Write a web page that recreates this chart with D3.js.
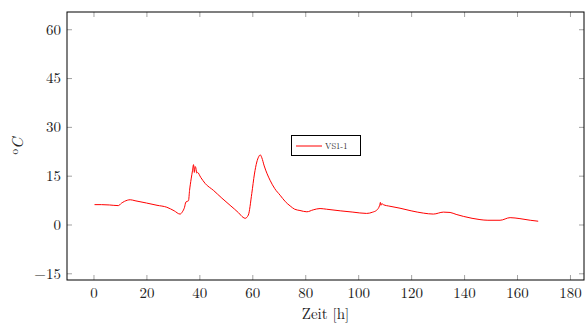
<!DOCTYPE html>
<html><head><meta charset="utf-8">
<script src="https://cdn.jsdelivr.net/npm/d3@7"></script>
<style>body{margin:0;background:#fff}svg{display:block}</style>
</head><body><svg id="c" width="585" height="324"></svg>
<script>
const hours = [0.4, 3, 6, 9.4, 10.5, 11.7, 13.9, 15.7, 20, 24, 27.7, 30.5, 32.7, 33.6, 34.4, 34.9, 35.9, 36.3, 36.9, 37.4, 37.8, 38.1, 38.4, 38.7, 39.0, 39.3, 40.5, 42.2, 45.3, 48.5, 51.6, 54.8, 56.5, 57.3, 58.5, 59.8, 60.8, 61.7, 62.4, 63, 63.6, 64.5, 66.7, 68.5, 70.5, 72.5, 74.3, 76, 78, 80.6, 83, 85.6, 88, 93.2, 98, 103.2, 105.5, 107, 108.1, 108.4, 108.6, 108.9, 109.5, 112, 115.8, 120, 124.6, 128.4, 132.2, 134.7, 137, 139.7, 143, 146, 149, 153.6, 157.4, 161.1, 165, 168];
const temps = [6.1, 6.1, 6.0, 5.8, 6.5, 7.1, 7.6, 7.3, 6.6, 5.9, 5.3, 4.2, 3.2, 3.9, 5.3, 6.9, 7.3, 10.5, 14.0, 16.5, 18.4, 16.0, 17.8, 17.3, 15.8, 16.0, 14.5, 12.6, 10.5, 8.1, 5.9, 3.6, 2.2, 1.9, 2.9, 9.5, 15.5, 19.2, 20.8, 21.4, 20.5, 18.0, 13.6, 11.0, 9.0, 7.0, 5.7, 4.7, 4.3, 3.9, 4.5, 4.9, 4.7, 4.2, 3.8, 3.4, 3.8, 4.4, 5.9, 6.8, 5.9, 6.4, 6.1, 5.6, 5.0, 4.2, 3.5, 3.2, 3.8, 3.7, 3.1, 2.5, 1.9, 1.5, 1.3, 1.3, 2.1, 1.8, 1.3, 1.0];
const xTicks = [0, 20, 40, 60, 80, 100, 120, 140, 160, 180];
const yTicks = [-15, 0, 15, 30, 45, 60];
const seriesName = "VS1-1";

const svg = d3.select("#c");
const L = 67, R = 584, T = 12, B = 280;
const x = d3.scaleLinear().domain([-10, 185.3]).range([L, R]);
const y = d3.scaleLinear().domain([-17.06, 65.3]).range([B, T]);
const font = "'Latin Modern Roman','Liberation Serif','DejaVu Serif',serif";
const fmt = d => d < 0 ? "\u2212" + Math.abs(d) : String(d);

function styleAxis(g, labels) {
  g.select(".domain").remove();
  g.selectAll(".tick line").attr("stroke", "#8a8a8a").attr("stroke-width", 0.8);
  g.selectAll("text").attr("font-family", font).attr("font-size", 15).attr("fill", "#222");
  if (!labels) g.selectAll("text").remove();
}
svg.append("g").attr("transform", `translate(0,${B})`)
  .call(d3.axisBottom(x).tickValues(xTicks).tickSize(-5).tickPadding(7).tickFormat(fmt))
  .call(g => styleAxis(g, true));
svg.append("g").attr("transform", `translate(0,${T})`)
  .call(d3.axisTop(x).tickValues(xTicks).tickSize(-5))
  .call(g => styleAxis(g, false));
svg.append("g").attr("transform", `translate(${L},0)`)
  .call(d3.axisLeft(y).tickValues(yTicks).tickSize(-5).tickPadding(6).tickFormat(fmt))
  .call(g => styleAxis(g, true));
svg.append("g").attr("transform", `translate(${R},0)`)
  .call(d3.axisRight(y).tickValues(yTicks).tickSize(-5))
  .call(g => styleAxis(g, false));

svg.append("rect").attr("x", L).attr("y", T).attr("width", R - L).attr("height", B - T)
  .attr("fill", "none").attr("stroke", "#000").attr("stroke-width", 1);

const data = hours.map((h, i) => [h, temps[i]]);
svg.append("path").datum(data)
  .attr("fill", "none").attr("stroke", "#ff0000").attr("stroke-width", 1)
  .attr("stroke-linejoin", "round")
  .attr("d", d3.line().x(d => x(d[0])).y(d => y(d[1])).curve(d3.curveMonotoneX));

// axis labels
svg.append("text").attr("x", (L + R) / 2).attr("y", 319).attr("text-anchor", "middle")
  .attr("font-family", font).attr("font-size", 15).attr("fill", "#222").text("Zeit [h]");
const yl = svg.append("text").attr("transform", `translate(23,${(T + B) / 2}) rotate(-90)`)
  .attr("text-anchor", "middle").attr("font-family", font).attr("font-size", 16).attr("fill", "#222");
yl.append("tspan").attr("font-size", 11).attr("dy", -5).text("o");
yl.append("tspan").attr("font-style", "italic").attr("dy", 5).text("C");

// legend
const lg = svg.append("g");
lg.append("rect").attr("x", 291.5).attr("y", 135.5).attr("width", 69).attr("height", 20)
  .attr("fill", "#fff").attr("stroke", "#000").attr("stroke-width", 1);
lg.append("line").attr("x1", 296).attr("x2", 322).attr("y1", 146).attr("y2", 146)
  .attr("stroke", "#ff0000").attr("stroke-width", 1);
lg.append("text").attr("x", 325).attr("y", 149).attr("font-family", font).attr("font-size", 8.5)
  .attr("fill", "#222").text(seriesName);
</script></body></html>
